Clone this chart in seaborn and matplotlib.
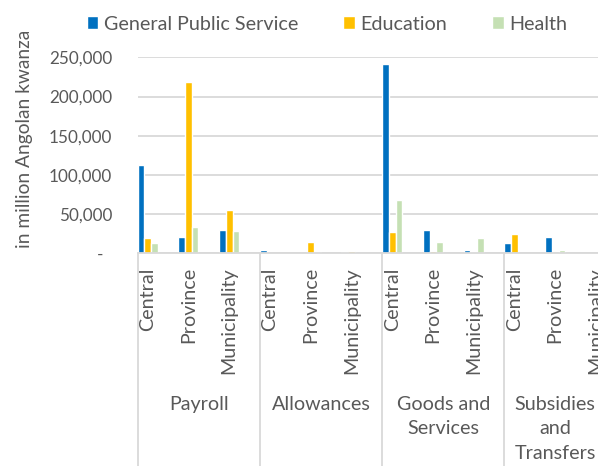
import numpy as np
import pandas as pd
import seaborn as sns
import matplotlib.pyplot as plt
import matplotlib.transforms as mtransforms

# Dữ liệu
groups = ["Payroll", "Allowances", "Goods and\nServices", "Subsidies\nand\nTransfers"]
levels = ["Central", "Province", "Municipality"]
series = ["General Public Service", "Education", "Health"]
general_public_service = [112000, 20500, 30000, 4200, 500, 1500, 241500, 30000, 4200, 13600, 20500, 0]
education = [19500, 218500, 55500, 500, 14500, 3000, 27700, 3300, 1500, 24700, 0, 0]
health = [12800, 33700, 29000, 0, 2000, 1000, 68300, 14100, 20000, 0, 3800, 0]
colors = ["#0070C0", "#FFC000", "#C5E0B4"]

text_color = "#595959"
grid_color = "#D9D9D9"

keys = [f"{g}|{l}" for g in groups for l in levels]
df = pd.DataFrame({
    "key": keys * 3,
    "value": general_public_service + education + health,
    "series": np.repeat(series, len(keys)),
})

sns.set_style("white")
plt.rcParams["font.family"] = ["Lato", "DejaVu Sans"]
fs = 14.2

fig = plt.figure(figsize=(5.98, 4.66), dpi=100)
ax = fig.add_axes([137.7 / 598, 1 - 253.3 / 466, 489 / 598, 196 / 466])

sns.barplot(data=df, x="key", y="value", hue="series", order=keys,
            hue_order=series, palette=colors, width=0.49, saturation=1,
            ax=ax)

handles, labels = ax.get_legend_handles_labels()
ax.get_legend().remove()
fig.legend(handles, labels, loc="center", bbox_to_anchor=(327 / 598, 1 - 24 / 466),
           ncol=3, frameon=False, fontsize=fs, labelcolor=text_color,
           handlelength=0.58, handleheight=0.58, handletextpad=0.28,
           columnspacing=2.3, borderpad=0, borderaxespad=0)

ax.set_xlim(-0.245, len(keys) - 0.245)
ax.set_ylim(0, 250000)
ax.set_yticks(range(0, 250001, 50000))
ax.set_yticklabels(["-  "] + [f"{v:,}" for v in range(50000, 250001, 50000)])
ax.yaxis.grid(True, color=grid_color, lw=1.3)
ax.set_axisbelow(True)
for s in ["left", "right", "top"]:
    ax.spines[s].set_visible(False)
ax.spines["bottom"].set_color(grid_color)
ax.spines["bottom"].set_linewidth(1.3)

ax.set_xticks(range(len(keys)))
ax.set_xticklabels(levels * len(groups), rotation=90, va="top", ha="center")
ax.tick_params(axis="x", length=0, pad=10, labelsize=fs, labelcolor=text_color)
ax.tick_params(axis="y", length=0, pad=18.5, labelsize=12.3, labelcolor=text_color)
ax.set_xlabel("")
ax.set_ylabel("")

# đường phân cách nhóm và nhãn nhóm
trans = mtransforms.blended_transform_factory(ax.transData, ax.transAxes)
for k, g in enumerate(groups):
    x0 = -0.245 + 3 * k
    ax.plot([x0, x0], [0, -1.2], transform=trans, color=grid_color, lw=1.3, clip_on=False)
    # nhóm cuối bị cắt ở mép phải, nhãn được dồn vào phần còn thấy
    xc = min(x0 + 1.5, 10.0)
    ax.text(xc, (253.3 - 396) / 196, g, transform=trans, ha="center", va="top",
            fontsize=fs, color=text_color, linespacing=1.52, multialignment="center")

fig.text(25 / 598, 1 - 139 / 466, "in million Angolan kwanza", rotation=90,
         ha="center", va="center", fontsize=13.8, color=text_color)

fig.savefig("out.png", dpi=100)
